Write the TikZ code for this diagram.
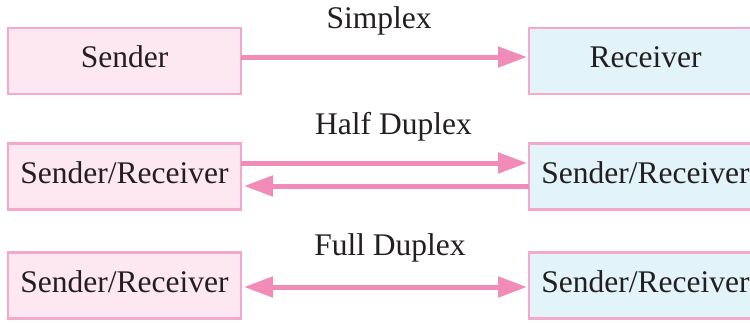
\documentclass[tikz,border=0pt]{standalone}
\usepackage{fontspec}
\setmainfont{Liberation Serif}
\usepackage{xcolor}
\usetikzlibrary{arrows.meta}
\definecolor{mypink}{RGB}{241, 139, 183}
\definecolor{myborder}{RGB}{245, 168, 201}
\definecolor{myfillpink}{RGB}{253, 231, 241}
\definecolor{myfillblue}{RGB}{226, 243, 249}
\definecolor{mytext}{RGB}{35, 31, 32}

\begin{document}
\begin{tikzpicture}[x=1pt, y=-1pt,
    font=\fontsize{31.5}{36}\selectfont, text=mytext,
    station/.style={draw=myborder, line width=2.5pt, inner sep=0pt, outer sep=0pt,
      minimum width=233pt, text height=39.5pt, text depth=26.5pt},
    sendbox/.style={station, fill=myfillpink},
    recvbox/.style={station, fill=myfillblue},
    link/.style={draw=mypink, line width=5pt, -{Triangle[length=29pt,width=20pt]}},
    caption/.style={anchor=base, inner sep=0pt}]
  \useasboundingbox (0,0) rectangle (750,322);
  \clip (0,0) rectangle (750,322);

  %Simplex
  \node[sendbox] (s1) at (124.5,61) {Sender};
  \node[recvbox] (r1) at (645.5,61) {Receiver};
  \node[caption] (t1) at (379,28.5) {Simplex};
  \draw[link, shorten >=2pt] ([yshift=4pt]s1.east) -- ([yshift=4pt]r1.west);

  %Half duplex
  \node[sendbox] (s2) at (124.5,176.5) {Sender/Receiver};
  \node[recvbox] (r2) at (645.5,176.5) {Sender/Receiver};
  \node[caption] (t2) at (393.5,134.5) {Half Duplex};
  \draw[link, shorten >=2pt] ([yshift=13.5pt]s2.east) -- ([yshift=13.5pt]r2.west);
  \draw[link, shorten >=3pt] ([yshift=-9.5pt]r2.west) -- ([yshift=-9.5pt]s2.east);

  %Full duplex
  \node[sendbox] (s3) at (124.5,285.5) {Sender/Receiver};
  \node[recvbox] (r3) at (645.5,285.5) {Sender/Receiver};
  \node[caption] (t3) at (390,255) {Full Duplex};
  \draw[link, {Triangle[length=29pt,width=20pt]}-{Triangle[length=29pt,width=20pt]},
    shorten <=3pt, shorten >=2pt] ([yshift=-1.5pt]s3.east) -- ([yshift=-1.5pt]r3.west);
\end{tikzpicture}
\end{document}
